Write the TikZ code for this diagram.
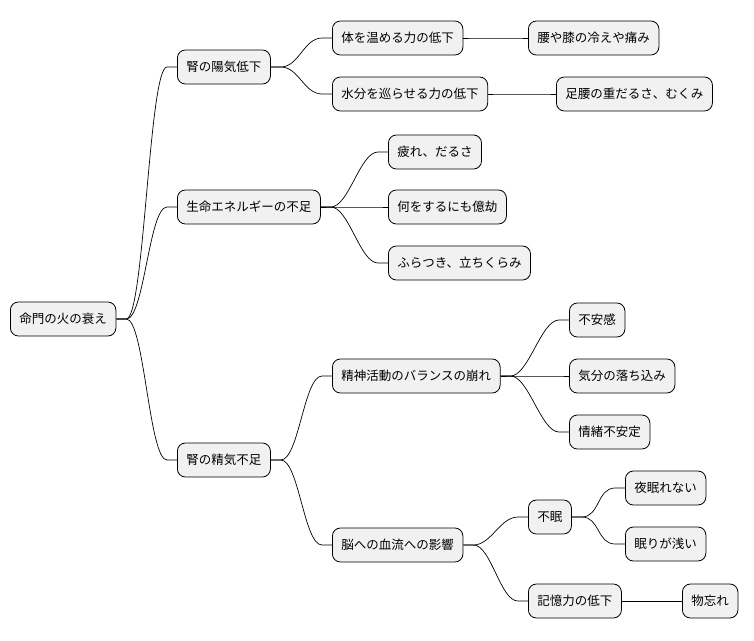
\documentclass[tikz,border=0pt]{standalone}
\usepackage{fontspec}
\setmainfont{Noto Sans CJK JP}
\begin{document}
\begin{tikzpicture}[x=1pt,y=-1pt,
  n/.style={draw=black,fill={rgb,255:red,241;green,241;blue,241},rounded corners=8pt,line width=0.8pt,minimum height=34pt,inner xsep=9pt,font=\fontsize{12.5pt}{14pt}\selectfont},
  c/.style={line width=0.7pt}]
\useasboundingbox (0,0) rectangle (754,640);
\node[n,anchor=west] (r) at (10,319) {命門の火の衰え};
\node[n,anchor=west] (a) at (177,67) {腎の陽気低下};
\node[n,anchor=west] (a1) at (332,38) {体を温める力の低下};
\node[n,anchor=west] (a1a) at (528,38) {腰や膝の冷えや痛み};
\node[n,anchor=west] (a2) at (332,94) {水分を巡らせる力の低下};
\node[n,anchor=west] (a2a) at (556,94) {足腰の重だるさ、むくみ};
\node[n,anchor=west] (b) at (177,207) {生命エネルギーの不足};
\node[n,anchor=west] (b1) at (388,152) {疲れ、だるさ};
\node[n,anchor=west] (b2) at (388,207) {何をするにも億劫};
\node[n,anchor=west] (b3) at (388,263) {ふらつき、立ちくらみ};
\node[n,anchor=west] (d) at (177,460) {腎の精気不足};
\node[n,anchor=west] (d1) at (332,376) {精神活動のバランスの崩れ};
\node[n,anchor=west] (d1a) at (569,320) {不安感};
\node[n,anchor=west] (d1b) at (569,376) {気分の落ち込み};
\node[n,anchor=west] (d1c) at (569,432) {情緒不安定};
\node[n,anchor=west] (d2) at (332,545) {脳への血流への影響};
\node[n,anchor=west] (e) at (528,517) {不眠};
\node[n,anchor=west] (e1) at (625,488) {夜眠れない};
\node[n,anchor=west] (e2) at (625,544) {眠りが浅い};
\node[n,anchor=west] (f) at (528,601) {記憶力の低下};
\node[n,anchor=west] (f1) at (682,601) {物忘れ};
\foreach \p/\q in {r/a,r/b,r/d,a/a1,a/a2,a1/a1a,a2/a2a,b/b1,b/b2,b/b3,d/d1,d/d2,d1/d1a,d1/d1b,d1/d1c,d2/e,d2/f,e/e1,e/e2,f/f1}
  \draw[c] (\p.east) -- ([xshift=10pt]\p.east) .. controls ([xshift=28pt]\p.east) and ([xshift=-28pt]\q.west) .. ([xshift=-10pt]\q.west) -- (\q.west);
\end{tikzpicture}
\end{document}
